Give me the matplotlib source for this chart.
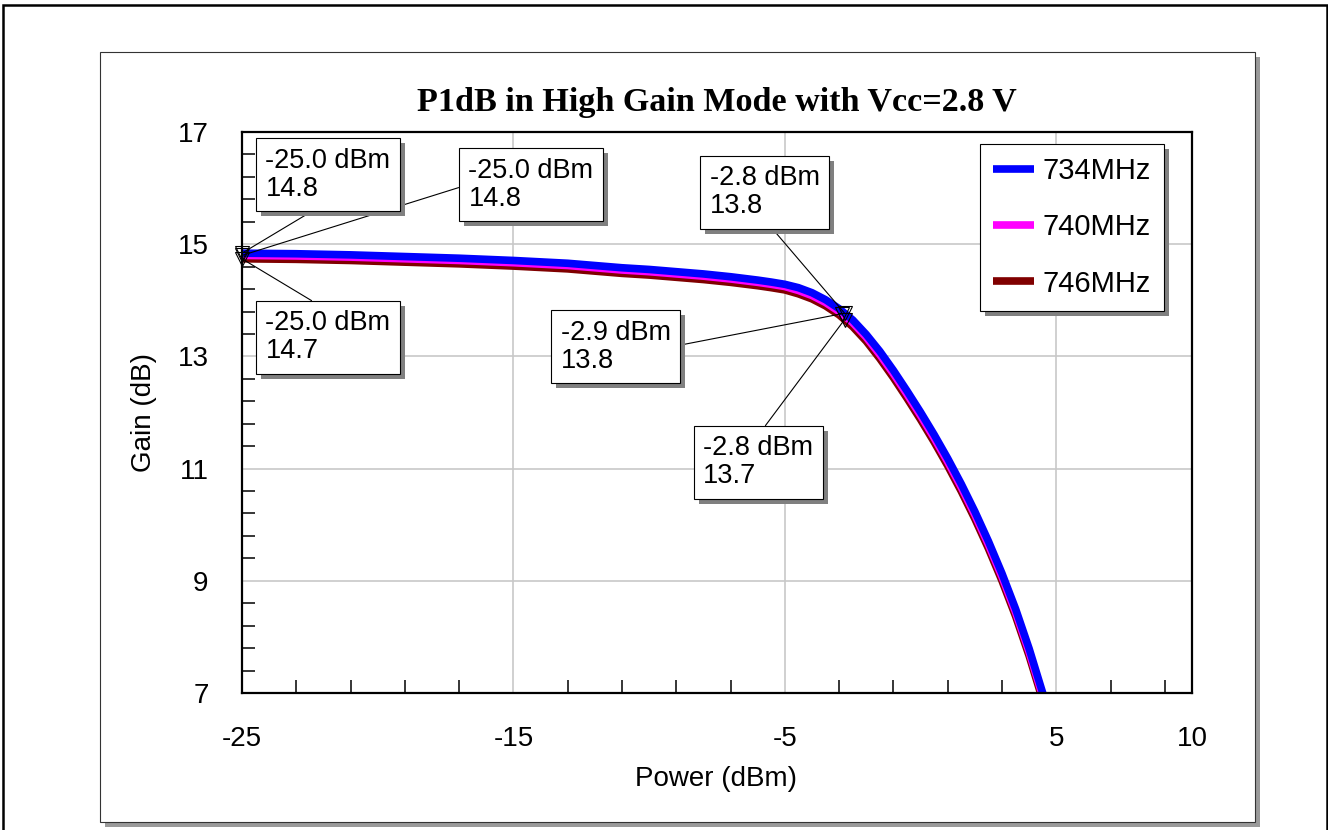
import numpy as np
import matplotlib
matplotlib.use('Agg')
import matplotlib.pyplot as plt
from matplotlib.patches import Rectangle
import matplotlib.patheffects as pe

plt.rcParams['font.family'] = ['Liberation Sans', 'DejaVu Sans']
plt.rcParams['axes.unicode_minus'] = False

# ---------------- data ----------------
power = [-25, -23, -21, -19, -17, -15, -13, -11, -10, -9, -8, -7, -6.5, -6, -5.5, -5,
         -4.5, -4, -3.5, -3, -2.5, -2, -1.5, -1, -0.5, 0, 0.5, 1, 1.5, 2, 2.5, 3,
         3.5, 4, 4.5, 5]
gain_734 = [14.84, 14.83, 14.81, 14.78, 14.75, 14.71, 14.66, 14.58, 14.55, 14.51,
            14.47, 14.42, 14.39, 14.36, 14.325, 14.285, 14.225, 14.135, 14.01, 13.85,
            13.65, 13.39, 13.09, 12.75, 12.385, 12.005, 11.605, 11.18, 10.725, 10.235,
            9.705, 9.13, 8.50, 7.79, 7.00, 6.15]
gain_740 = [14.80, 14.79, 14.77, 14.74, 14.71, 14.67, 14.62, 14.54, 14.51, 14.47,
            14.43, 14.38, 14.35, 14.32, 14.285, 14.245, 14.175, 14.085, 13.96, 13.80,
            13.60, 13.34, 13.03, 12.69, 12.325, 11.945, 11.545, 11.12, 10.665, 10.175,
            9.645, 9.07, 8.44, 7.73, 6.94, 6.09]
gain_746 = [14.74, 14.73, 14.71, 14.68, 14.65, 14.61, 14.56, 14.48, 14.45, 14.41,
            14.37, 14.32, 14.29, 14.26, 14.225, 14.185, 14.115, 14.025, 13.90, 13.74,
            13.53, 13.27, 12.96, 12.62, 12.255, 11.875, 11.475, 11.05, 10.595, 10.105,
            9.575, 9.00, 8.37, 7.66, 6.87, 6.02]

series_names = ['734MHz', '740MHz', '746MHz']
series_colors = ['#0000FF', '#FF00FF', '#800000']
series_gain = [gain_734, gain_740, gain_746]

# marker annotations: which series, at which power
ann_series = [1, 0, 2, 1, 0, 2]
ann_power = [-25.0, -25.0, -25.0, -2.9, -2.8, -2.8]

x_ticks = [-25, -15, -5, 5, 10]
y_ticks = [7, 9, 11, 13, 15, 17]
x_minor = [-23, -21, -19, -17, -13, -11, -9, -7, -3, -1, 1, 3, 7, 9]
y_minor = [7.4, 7.8, 8.2, 8.6, 9.4, 9.8, 10.2, 10.6, 11.4, 11.8, 12.2, 12.6,
           13.4, 13.8, 14.2, 14.6, 15.4, 15.8, 16.2, 16.6]

title = 'P1dB in High Gain Mode with Vcc=2.8 V'
xlabel = 'Power (dBm)'
ylabel = 'Gain (dB)'

# ---------------- layout ----------------
W, H = 1328, 830
fig = plt.figure(figsize=(W / 100, H / 100), dpi=100)
fig.patch.set_facecolor('white')


def fx(px):
    return px / W


def fy(py):
    return 1 - py / H


def rect_px(x0, y0, x1, y1, **kw):
    return Rectangle((fx(x0), fy(y1)), fx(x1) - fx(x0), fy(y0) - fy(y1),
                     transform=fig.transFigure, **kw)


# outer border
fig.add_artist(rect_px(3.5, 5.5, 1326.5, 845, fill=False, ec='black', lw=1.8, zorder=-5))
# panel shadow + panel
fig.add_artist(rect_px(105, 57, 1260, 827, fc='#9a9a9a', ec='none', zorder=-4))
fig.add_artist(rect_px(100, 52, 1255, 822, fc='white', ec='#333333', lw=0.8, zorder=-3))

ax_l, ax_r, ax_t, ax_b = 242, 1192, 132, 693
ax = fig.add_axes([fx(ax_l), fy(ax_b), (ax_r - ax_l) / W, (ax_b - ax_t) / H])
ax.set_facecolor('white')

# curves (746 first so 734 on top)
lines = []
for i in [2, 1, 0]:
    ln, = ax.plot(power, series_gain[i], color=series_colors[i], lw=5.5,
                  solid_capstyle='butt', solid_joinstyle='round',
                  label=series_names[i], zorder=2)
    lines.append(ln)
lines = lines[::-1]

ax.set_xlim(-25, 10)
ax.set_ylim(7, 17)
ax.set_xticks(x_ticks)
ax.set_xticks(x_minor, minor=True)
ax.set_yticks(y_ticks)
ax.set_yticks(y_minor, minor=True)
ax.set_xticklabels([str(v) for v in x_ticks])
ax.set_yticklabels([str(v) for v in y_ticks])
ax.tick_params(which='major', length=0, labelsize=20, colors='black')
ax.tick_params(axis='x', which='major', pad=24)
ax.tick_params(axis='y', which='major', pad=24)
ax.tick_params(which='minor', direction='in', length=9.5, width=1.1, color='black')
ax.grid(which='major', color='#c8c8c8', lw=1.2)
ax.set_axisbelow(True)
for s in ax.spines.values():
    s.set_linewidth(1.6)
    s.set_color('black')

# markers + annotations
mx = [ann_power[k] for k in range(len(ann_power))]
my = [float(np.interp(ann_power[k], power, series_gain[ann_series[k]])) for k in range(len(ann_power))]
ax.plot(mx, my, linestyle='none', marker='v', ms=10, mfc='none', mec='black',
        mew=0.8, zorder=4, clip_on=False)

# box centers (axes fraction) and the edge where the leader line starts
box_pos = [(0.3042, 0.9064), (0.0905, 0.9240), (0.0905, 0.6337),
           (0.3932, 0.6168), (0.5500, 0.8922), (0.5432, 0.4109)]
box_rel = [(0, 0.5), (0.5, 0), (0.5, 1), (1, 0.5), (0.5, 0), (0.5, 1)]

for k in range(len(ann_power)):
    txt = f"{mx[k]:.1f} dBm\n{my[k]:.1f}"
    a = ax.annotate(txt, xy=(mx[k], my[k]), xycoords='data',
                    xytext=box_pos[k], textcoords='axes fraction',
                    ha='center', va='center', fontsize=19.5, linespacing=1.1,
                    multialignment='left',
                    bbox=dict(boxstyle='square,pad=0.35', fc='white', ec='black', lw=0.8),
                    arrowprops=dict(arrowstyle='-', color='black', lw=0.8,
                                    relpos=box_rel[k], shrinkA=0, shrinkB=0),
                    zorder=6, annotation_clip=False)
    a.get_bbox_patch().set_path_effects([
        pe.SimplePatchShadow(offset=(3.6, -3.6), shadow_rgbFace='#808080', alpha=1.0),
        pe.Normal()])

# legend
leg = ax.legend(handles=lines, labels=series_names, loc='upper right',
                bbox_to_anchor=((1164 - ax_l) / (ax_r - ax_l), (ax_b - 144) / (ax_b - ax_t)),
                borderaxespad=0, fontsize=21, fancybox=False, framealpha=1,
                edgecolor='black', handlelength=1.4, handletextpad=0.3,
                labelspacing=0.97, borderpad=0.45)
leg.get_frame().set_linewidth(0.8)
leg.get_frame().set_path_effects([
    pe.SimplePatchShadow(offset=(3.6, -3.6), shadow_rgbFace='#808080', alpha=1.0),
    pe.Normal()])
leg.set_zorder(7)

# title and axis labels
fig.text(fx(717), fy(111), title, ha='center', va='baseline', fontsize=24.6,
         fontweight='bold', family=['Liberation Serif', 'DejaVu Serif'])
fig.text(fx(716), fy(786), xlabel, ha='center', va='baseline', fontsize=20)
fig.text(fx(144), fy(412), ylabel, ha='center', va='center', rotation=90, fontsize=20)

fig.savefig('out.png', dpi=100, facecolor='white')
